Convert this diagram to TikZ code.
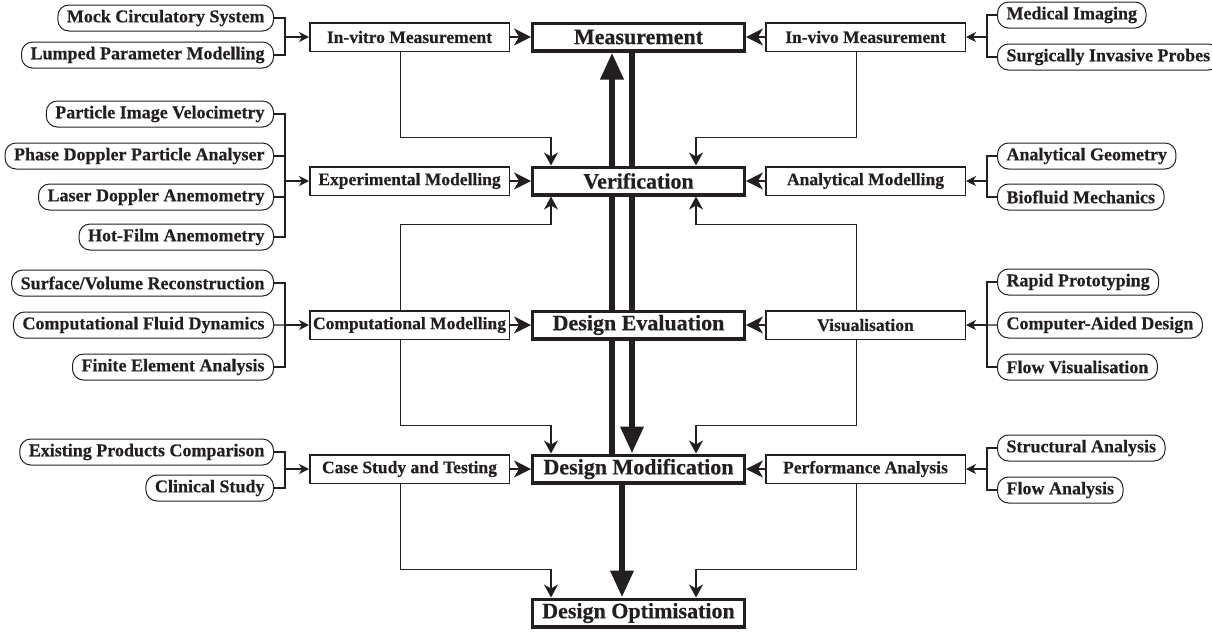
\documentclass[tikz,border=0pt]{standalone}
\usepackage{fontspec}
\setmainfont{Liberation Serif}[BoldFeatures={FakeBold=0.5}]
\usetikzlibrary{arrows.meta,positioning,calc,backgrounds}
\definecolor{ink}{RGB}{35,31,32}
\tikzset{
  stage/.style={draw=ink, line width=3.3pt, fill=white, text=ink, inner sep=0pt,
                minimum width=211.7pt, minimum height=27.7pt, font=\fontsize{22}{24}\selectfont\bfseries},
  method/.style={draw=ink, line width=1.5pt, fill=white, text=ink, inner sep=0pt,
                 minimum width=199.5pt, minimum height=28.5pt, font=\fontsize{17.5}{20}\selectfont\bfseries},
  tech/.style={draw=ink, line width=1pt, rounded corners=11pt, fill=white, text=ink,
               inner xsep=9pt, inner ysep=0pt, minimum height=26pt, font=\fontsize{18}{20}\selectfont\bfseries},
  brk/.style={draw=ink, line width=1.1pt},
  brkarr/.style={-{Stealth[length=10pt,width=10pt,inset=3pt]}, draw=ink, line width=1.1pt},
  feedarr/.style={-{Stealth[length=17pt,width=17pt,inset=5pt]}, draw=ink, line width=1.3pt},
  linkarr/.style={-{Stealth[length=13pt,width=14pt,inset=4pt]}, draw=ink, line width=1.3pt},
  mainarr/.style={-{Triangle[length=27pt,width=22pt]}, draw=ink, line width=6.5pt},
}

\begin{document}
\begin{tikzpicture}[x=1pt,y=-1pt]
  \useasboundingbox (0,0) rectangle (1212,633);

  % design stages
  \node[stage] (meas) at (638.5,37) {Measurement};
  \node[stage, below=113pt of meas] (verif) {Verification};
  \node[stage, below=113pt of verif] (deval) {Design Evaluation};
  \node[stage, below=113pt of deval] (dmod) {Design Modification};
  \node[stage, below=113pt of dmod] (dopt) {Design Optimisation};

  % methods
  \node[method, left=21pt of meas] (invitro) {In-vitro Measurement};
  \node[method, left=21pt of verif] (expmod) {Experimental Modelling};
  \node[method, left=21pt of deval] (compmod) {Computational Modelling};
  \node[method, left=21pt of dmod] (casest) {Case Study and Testing};
  \node[method, right=19pt of meas] (invivo) {In-vivo Measurement};
  \node[method, right=19pt of verif] (anamod) {Analytical Modelling};
  \node[method, right=19pt of deval] (visual) {Visualisation};
  \node[method, right=19pt of dmod] (perfan) {Performance Analysis};

  % techniques
  \foreach \n/\y/\t in {mock/18/Mock Circulatory System, lumped/55/Lumped Parameter Modelling,
      piv/114/Particle Image Velocimetry, pdpa/156/Phase Doppler Particle Analyser,
      lda/197/Laser Doppler Anemometry, hfa/237/Hot-Film Anemometry,
      svr/283/{Surface/Volume Reconstruction}, cfd/325/Computational Fluid Dynamics,
      fea/367/Finite Element Analysis, epc/452/Existing Products Comparison, clin/488/Clinical Study}
    \node[tech, anchor=east] (\n) at (274,\y) {\t};
  \foreach \n/\y/\t in {medimg/15/Medical Imaging, sip/57/Surgically Invasive Probes,
      ageo/156/Analytical Geometry, biof/197/Biofluid Mechanics,
      rapid/282/Rapid Prototyping, cad/325/Computer-Aided Design, flowvis/367/Flow Visualisation,
      struct/448/Structural Analysis, flowan/490/Flow Analysis}
    \node[tech, anchor=west] (\n) at (997,\y) {\t};

  % brackets, left
  \coordinate[left=24pt of invitro] (bl1);
  \coordinate[left=24pt of expmod] (bl2);
  \coordinate[left=24pt of compmod] (bl3);
  \coordinate[left=24pt of casest] (bl4);
  \draw[brk] (mock.east) -| (bl1) |- (lumped.east);
  \draw[brk] (piv.east) -| (bl2) |- (hfa.east);
  \foreach \n in {pdpa,lda} \draw[brk] (\n.east) -- (\n.east -| bl2);
  \draw[brk] (svr.east) -| (bl3) |- (fea.east);
  \draw[brk] (cfd.east) -- (bl3);
  \draw[brk] (epc.east) -| (bl4) |- (clin.east);
  \draw[brkarr] (bl1) -- (invitro);
  \draw[brkarr] (bl2) -- (expmod);
  \draw[brkarr] (bl3) -- (compmod);
  \draw[brkarr] (bl4) -- (casest);

  % brackets, right
  \coordinate[right=21pt of invivo] (br1);
  \coordinate[right=21pt of anamod] (br2);
  \coordinate[right=21pt of visual] (br3);
  \coordinate[right=21pt of perfan] (br4);
  \draw[brk] (medimg.west) -| (br1) |- (sip.west);
  \draw[brk] (ageo.west) -| (br2) |- (biof.west);
  \draw[brk] (rapid.west) -| (br3) |- (flowvis.west);
  \draw[brk] (cad.west) -- (br3);
  \draw[brk] (struct.west) -| (br4) |- (flowan.west);
  \draw[brkarr] (br1) -- (invivo);
  \draw[brkarr] (br2) -- (anamod);
  \draw[brkarr] (br3) -- (visual);
  \draw[brkarr] (br4) -- (perfan);

  % methods into stages
  \foreach \m/\s in {invitro/meas, expmod/verif, compmod/deval, casest/dmod,
      invivo/meas, anamod/verif, visual/deval, perfan/dmod}
    \draw[feedarr] (\m) -- (\s);

  % links down and up
  \foreach \m/\s in {invitro/verif, compmod/dmod, casest/dopt}
    \draw[linkarr] ([xshift=-9pt]\m.south) |- ([xshift=-87.5pt,yshift=28pt]\s.north) -- ([xshift=-87.5pt]\s.north);
  \foreach \m/\s in {invivo/verif, visual/dmod, perfan/dopt}
    \draw[linkarr] ([xshift=-9pt]\m.south) |- ([xshift=57.5pt,yshift=28pt]\s.north) -- ([xshift=57.5pt]\s.north);
  \draw[linkarr] ([xshift=-9pt]compmod.north) |- ([xshift=-87.5pt,yshift=-28pt]verif.south) -- ([xshift=-87.5pt]verif.south);
  \draw[linkarr] ([xshift=-9pt]visual.north) |- ([xshift=57.5pt,yshift=-28pt]verif.south) -- ([xshift=57.5pt]verif.south);

  % main loop
  \begin{pgfonlayer}{background}
    \draw[mainarr] ([xshift=-6.5pt]meas.south) -- ([xshift=-6.5pt]dmod.north);
    \draw[mainarr] ([xshift=-26.5pt]dmod.north) -- ([xshift=-26.5pt]meas.south);
  \end{pgfonlayer}
  \draw[mainarr] ([xshift=-16.5pt]dmod.south) -- ([xshift=-16.5pt]dopt.north);
\end{tikzpicture}
\end{document}
